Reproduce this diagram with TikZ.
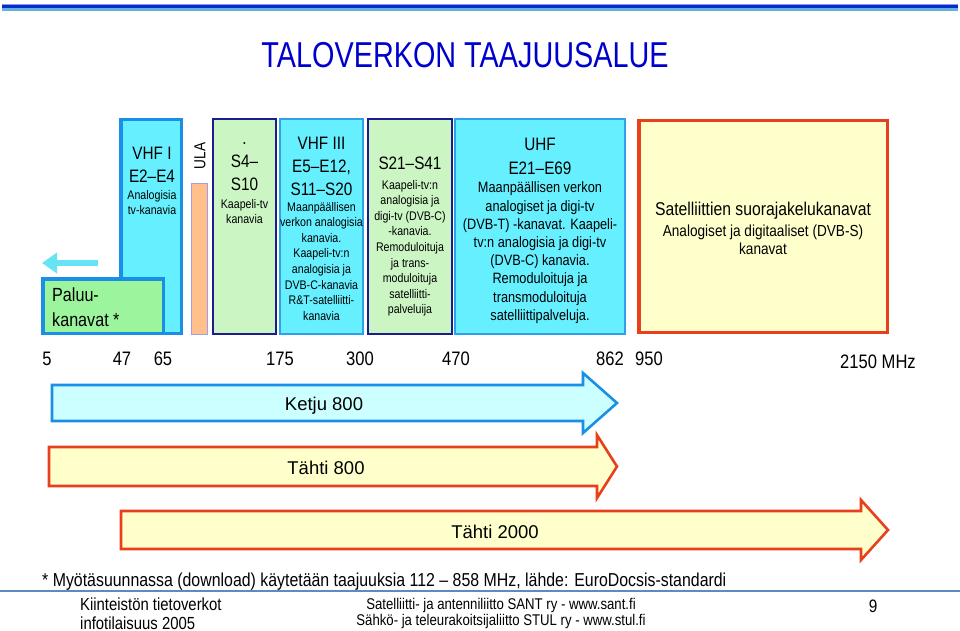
\documentclass[tikz,border=0pt]{standalone}
\usepackage{fontspec}
\setmainfont{Liberation Sans}
\newfontfamily\nf[FakeStretch=0.85]{Liberation Sans}
\newfontfamily\tf[FakeStretch=0.8]{Liberation Sans}
\usetikzlibrary{arrows.meta}
\definecolor{cyanF}{HTML}{66F0FF}
\definecolor{blueB}{HTML}{1A8FE6}
\definecolor{blueT}{HTML}{30A0E8}
\definecolor{greenF}{HTML}{CCF5C4}
\definecolor{navyB}{HTML}{1C1C8C}
\definecolor{paluuF}{HTML}{9CF59C}
\definecolor{orangeF}{HTML}{FFC08C}
\definecolor{lilacB}{HTML}{A0A0E8}
\definecolor{yellowF}{HTML}{FFFFCC}
\definecolor{redB}{HTML}{E8401C}
\definecolor{ketjuF}{HTML}{CCFFFF}
\definecolor{leftA}{HTML}{66E4F4}
\definecolor{titleC}{HTML}{0000CC}
\definecolor{bandP}{HTML}{9090FF}
\definecolor{bandD}{HTML}{0030CC}
\definecolor{bandL}{HTML}{66B0E0}
\definecolor{footL}{HTML}{5A8CC0}
\tikzset{
  box/.style={inner sep=0pt, outer sep=0pt, minimum height=213.5pt},
  cyanthick/.style={box, draw=blueB, fill=cyanF, line width=3.5pt},
  cyanthin/.style={box, draw=blueT, fill=cyanF, line width=1.8pt, minimum height=215.2pt},
  greenbox/.style={box, draw=navyB, fill=greenF, line width=1.8pt, minimum height=215.2pt},
  txt/.style={inner sep=0pt, outer sep=0pt, align=center, anchor=north, text=black},
  big/.style={font=\nf\fontsize{18}{23}\selectfont},
  small/.style={font=\nf\fontsize{12.5}{15.6}\selectfont},
  freq/.style={inner sep=0pt, anchor=base, font=\nf\fontsize{19.5}{22}\selectfont},
  arrlabel/.style={inner sep=0pt, anchor=base, font=\fontsize{18.5}{22}\selectfont},
  ketju/.style={draw=blueB, fill=ketjuF, line width=2.6pt, line join=miter},
  tahti/.style={draw=redB, fill=yellowF, line width=2.6pt, line join=miter},
  foot/.style={inner sep=0pt, anchor=base west, font=\nf\fontsize{17.5}{20}\selectfont},
  footc/.style={inner sep=0pt, anchor=base, font=\nf\fontsize{15.5}{18}\selectfont},
}
\begin{document}
\begin{tikzpicture}[x=1pt,y=-1pt]
\useasboundingbox (0,0) rectangle (960,631);
% top band
\fill[bandP] (2,3.8) rectangle (958,5.2);
\fill[bandD] (2,5.2) rectangle (958,8.4);
\fill[bandL] (2,8.4) rectangle (958,10.8);
% title
\node[inner sep=0pt, anchor=base, text=titleC, font=\tf\fontsize{36}{40}\selectfont] (title) at (465,68) {TALOVERKON TAAJUUSALUE};
% boxes
\node[cyanthick, minimum width=60.5pt] (vhf1) at (151,226.5) {};
\node[box, draw=blueB, fill=paluuF, line width=3.5pt, minimum width=120.5pt, minimum height=54.5pt] (paluu) at (103,306) {};
\node[box, draw=lilacB, fill=orangeF, line width=1.2pt, minimum width=15.8pt, minimum height=150.8pt] (ula) at (199.5,259) {};
\node[greenbox, minimum width=63.2pt] (s4) at (244.5,226.5) {};
\node[cyanthin, minimum width=83.2pt] (vhf3) at (321.5,226.5) {};
\node[greenbox, minimum width=84.2pt] (s21) at (410,226.5) {};
\node[cyanthin, minimum width=170.2pt] (uhf) at (540,226.5) {};
\node[box, draw=redB, fill=yellowF, line width=3.5pt, minimum width=248.5pt, minimum height=211.5pt] (sat) at (763,226.5) {};
% left arrow
\coordinate (la1) at (98,263);
\coordinate (la2) at (42,263);
\draw[leftA, line width=6pt, -{Triangle[length=15pt,width=20pt]}] (la1) -- (la2);
% box texts
\node[txt, big] (t1a) at (152,147) {VHF I\\E2–E4};
\node[txt, small] (t1b) at (152,190) {Analogisia\\tv-kanavia};
\node[inner sep=0pt, anchor=north west, align=left, font=\nf\fontsize{19}{25}\selectfont] (tp) at (52,288) {Paluu-\\kanavat *};
\node[inner sep=0pt, rotate=90, font=\nf\fontsize{16}{18}\selectfont] (tula) at (200,156) {ULA};
\node[txt, big] (t4a) at (244.5,143) {.\\[0pt]S4–\\S10};
\node[txt, small] (t4b) at (244.5,199) {Kaapeli-tv\\kanavia};
\node[txt, big] (t3a) at (321.5,137) {VHF III\\E5–E12,\\S11–S20};
\node[txt, small] (t3b) at (321.5,202) {Maanpäällisen\\verkon analogisia\\kanavia.\\Kaapeli-tv:n\\analogisia ja\\DVB-C-kanavia\\R\&T-satelliitti-\\kanavia};
\node[txt, big] (t21a) at (410,157) {S21–S41};
\node[txt, small] (t21b) at (410,180) {Kaapeli-tv:n\\analogisia ja\\digi-tv (DVB-C)\\-kanavia.\\Remoduloituja\\ja trans-\\moduloituja\\satelliitti-\\palveluija};
\node[txt, font=\nf\fontsize{18}{24.5}\selectfont] (tua) at (540,138) {UHF\\E21–E69};
\node[txt, font=\nf\fontsize{15}{18.2}\selectfont] (tub) at (540,182) {Maanpäällisen verkon\\analogiset ja digi-tv\\(DVB-T) -kanavat. Kaapeli-\\tv:n analogisia ja digi-tv\\(DVB-C) kanavia.\\Remoduloituja ja\\transmoduloituja\\satelliittipalveluja.};
\node[txt, font=\nf\fontsize{18.5}{22}\selectfont] (tsa) at (763,202) {Satelliittien suorajakelukanavat};
\node[txt, font=\nf\fontsize{16}{18}\selectfont] (tsb) at (763,225) {Analogiset ja digitaaliset (DVB-S)\\kanavat};
% frequency labels
\node[freq] (f5) at (47,365) {5};
\node[freq] (f47) at (122,365) {47};
\node[freq] (f65) at (163,365) {65};
\node[freq] (f175) at (280,365) {175};
\node[freq] (f300) at (360,365) {300};
\node[freq] (f470) at (456,365) {470};
\node[freq] (f862) at (610,365) {862};
\node[freq] (f950) at (649,365) {950};
\node[freq] (f2150) at (878,368) {2150 MHz};
% band arrows
\draw[ketju] (52,385) -- (583,385) -- (583,373) -- (617,403) -- (583,433) -- (583,421) -- (52,421) -- cycle;
\draw[tahti] (49,447) -- (597,447) -- (597,435) -- (617,466.5) -- (597,498) -- (597,486) -- (49,486) -- cycle;
\draw[tahti] (121,511) -- (861,511) -- (861,500) -- (888,530) -- (861,560) -- (861,549) -- (121,549) -- cycle;
\node[arrlabel] (lk) at (324,410) {Ketju 800};
\node[arrlabel] (lt8) at (326,474) {Tähti 800};
\node[arrlabel] (lt2) at (495,538) {Tähti 2000};
% footer
\node[inner sep=0pt, anchor=base west, font=\nf\fontsize{18.7}{22}\selectfont] (note) at (42,586) {* Myötäsuunnassa (download) käytetään taajuuksia 112 – 858 MHz, lähde: EuroDocsis-standardi};
\draw[footL, line width=2pt] (0,591) -- (960,591);
\node[foot] (kt) at (80,610) {Kiinteistön tietoverkot};
\node[foot] (ki) at (80,629) {infotilaisuus 2005};
\node[footc] (ls1) at (501,609) {Satelliitti- ja antenniliitto SANT ry - www.sant.fi};
\node[footc] (ls2) at (501,625) {Sähkö- ja teleurakoitsijaliitto STUL ry - www.stul.fi};
\node[inner sep=0pt, anchor=base, font=\nf\fontsize{18}{22}\selectfont] (pg) at (873,612) {9};
\end{tikzpicture}
\end{document}
